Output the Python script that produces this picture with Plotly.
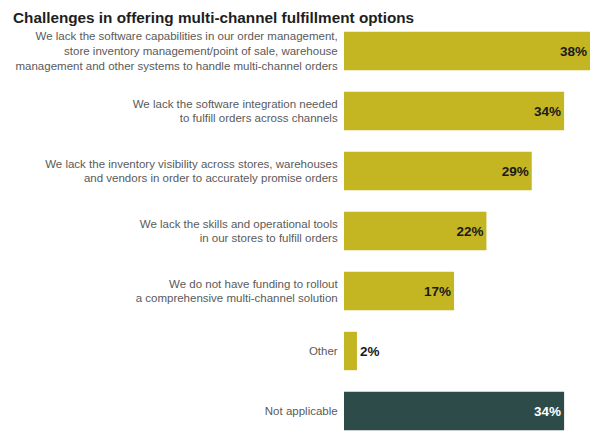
import plotly.graph_objects as go

categories = [
    "We lack the software capabilities in our order management,<br>store inventory management/point of sale, warehouse<br>management and other systems to handle multi-channel orders",
    "We lack the software integration needed<br>to fulfill orders across channels",
    "We lack the inventory visibility across stores, warehouses<br>and vendors in order to accurately promise orders",
    "We lack the skills and operational tools<br>in our stores to fulfill orders",
    "We do not have funding to rollout<br>a comprehensive multi-channel solution",
    "Other",
    "Not applicable",
]
values = [38, 34, 29, 22, 17, 2, 34]
labels = ["38%", "34%", "29%", "22%", "17%", "2%", "34%"]

yellow = "#c4b523"
teal = "#2d4b48"
colors = [yellow] * 6 + [teal]
text_colors = ["#1a1a1a"] * 6 + ["white"]
positions = ["inside"] * 5 + ["outside"] + ["inside"]

fig = go.Figure(go.Bar(
    x=values, y=categories, orientation="h",
    marker=dict(color=colors, line=dict(width=0)),
    text=labels, textposition=positions, insidetextanchor="end",
    textfont=dict(family="Liberation Sans, Arial", size=13.5, color=text_colors),
    outsidetextfont=dict(family="Liberation Sans, Arial", size=13.5, color="#1a1a1a"),
    texttemplate="<b>%{text}</b>", cliponaxis=False,
))

# page has an 8px body margin, so the figure is sized to fit the window
fig.update_layout(
    width=592, height=436,
    margin=dict(l=336, r=10, t=13, b=3, autoexpand=False),
    paper_bgcolor="white", plot_bgcolor="white",
    bargap=0.36, showlegend=False,
    font=dict(family="Liberation Sans, Arial", size=11.5, color="#5a5a5a"),
    uniformtext=dict(minsize=8, mode="show"),
)
fig.add_annotation(
    text="<b>Challenges in offering multi-channel fulfillment options</b>",
    xref="paper", yref="paper", x=-336 / 246, y=1, xanchor="left", yanchor="bottom",
    xshift=4, yshift=-6, showarrow=False, borderpad=0,
    font=dict(size=15.3, color="#1e1e1e"),
)
fig.update_xaxes(range=[0, 38], visible=False, automargin=False)
fig.update_yaxes(autorange="reversed", showgrid=False, showline=False, zeroline=False,
                 automargin=False, ticks="outside", ticklen=3, tickcolor="rgba(0,0,0,0)")

fig.write_html("out.html")
